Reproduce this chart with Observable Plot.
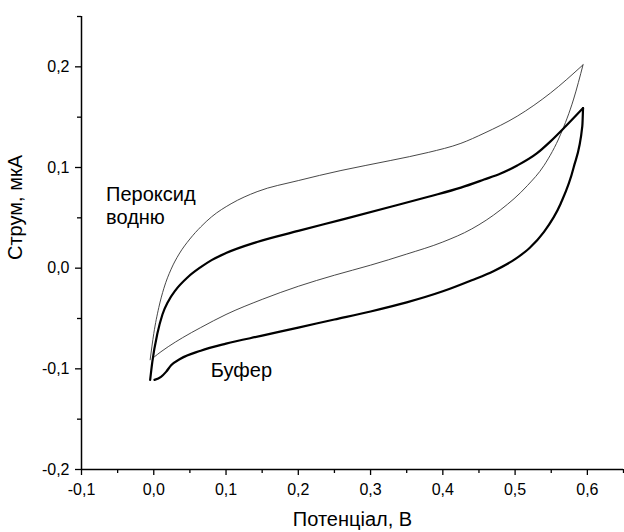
<!DOCTYPE html>
<html><head><meta charset="utf-8">
<script src="https://cdn.jsdelivr.net/npm/d3@7"></script>
<script src="https://cdn.jsdelivr.net/npm/@observablehq/plot@0.6"></script>
<style>body{margin:0;background:#fff} svg{display:block}</style>
</head><body><div id="chart"></div>
<script>
const xDomain = [-0.1, 0.65];
const yDomain = [-0.2, 0.25];
const xMajor = [-0.1, 0, 0.1, 0.2, 0.3, 0.4, 0.5, 0.6];
const xMinor = [-0.05, 0.05, 0.15, 0.25, 0.35, 0.45, 0.55, 0.65];
const yMajor = [-0.2, -0.1, 0, 0.1, 0.2];
const yMinor = [-0.15, -0.05, 0.05, 0.15, 0.25];

// Пероксид водню (thin), forward and reverse scan
const peroxideForward = [[-0.005,-0.091],[0.0,-0.065],[0.007,-0.039],[0.014,-0.020],[0.024,-0.001],[0.035,0.014],[0.05,0.029],[0.065,0.041],[0.08,0.051],[0.107,0.064],[0.143,0.076],[0.2,0.087],[0.259,0.097],[0.328,0.107],[0.38,0.115],[0.425,0.124],[0.457,0.134],[0.503,0.151],[0.549,0.174],[0.594,0.202]];
const peroxideReverse = [[0.594,0.202],[0.581,0.168],[0.563,0.133],[0.540,0.102],[0.517,0.082],[0.48,0.058],[0.44,0.039],[0.4,0.026],[0.35,0.014],[0.3,0.003],[0.25,-0.007],[0.2,-0.018],[0.15,-0.031],[0.1,-0.046],[0.065,-0.059],[0.04,-0.069],[0.02,-0.078],[0.01,-0.083],[0.001,-0.088]];
// Буфер (thick)
const bufferForward = [[-0.005,-0.111],[-0.002,-0.093],[0.005,-0.065],[0.012,-0.046],[0.02,-0.033],[0.03,-0.022],[0.047,-0.009],[0.065,0.001],[0.08,0.008],[0.1,0.015],[0.143,0.026],[0.2,0.037],[0.259,0.048],[0.328,0.061],[0.38,0.071],[0.425,0.080],[0.457,0.088],[0.48,0.094],[0.503,0.102],[0.53,0.114],[0.549,0.126],[0.57,0.141],[0.594,0.159]];
const bufferReverse = [[0.594,0.159],[0.593,0.141],[0.581,0.100],[0.563,0.064],[0.54,0.036],[0.52,0.020],[0.5,0.009],[0.47,-0.003],[0.44,-0.012],[0.4,-0.023],[0.35,-0.034],[0.3,-0.043],[0.25,-0.051],[0.2,-0.059],[0.15,-0.067],[0.1,-0.075],[0.065,-0.082],[0.037,-0.090],[0.024,-0.0965],[0.017,-0.103],[0.01,-0.108],[0.001,-0.111]];

const annotations = [
  {text: "Пероксид\nводню", x: -0.066, y: 0.0826},
  {text: "Буфер", x: 0.079, y: -0.0915}
];
const xLabel = "Потенціал, В";
const yLabel = "Струм, мкА";

const rows = (arr, series, branch) => arr.map(([x, y]) => ({x, y, series, branch: series + branch})).sort((a, b) => a.x - b.x);
const peroxide = [...rows(peroxideForward, "peroxide", "f"), ...rows(peroxideReverse, "peroxide", "r")];
const buffer = [...rows(bufferForward, "buffer", "f"), ...rows(bufferReverse, "buffer", "r")];

const fmt = d => d.toFixed(1).replace(".", ",");

const chart = Plot.plot({
  width: 624, height: 532,
  marginLeft: 81, marginRight: 1, marginTop: 16, marginBottom: 63,
  x: {domain: xDomain},
  y: {domain: yDomain},
  style: {fontFamily: "'Liberation Sans', Arial, sans-serif", color: "#000", background: "#fff"},
  marks: [
    Plot.line(peroxide, {x: "x", y: "y", z: "branch", stroke: "#333", strokeWidth: 0.9, curve: "monotone-x"}),
    Plot.line(buffer, {x: "x", y: "y", z: "branch", stroke: "#000", strokeWidth: 2.2, curve: "monotone-x"}),
    Plot.ruleX([xDomain[0]], {stroke: "#000", strokeWidth: 1.5}),
    Plot.ruleY([yDomain[0]], {stroke: "#000", strokeWidth: 1.5}),
    Plot.axisX(xMajor, {tickSize: 6, tickPadding: 8, tickFormat: fmt, fontSize: 16, label: null, strokeWidth: 1.3}),
    Plot.axisX(xMinor, {tickSize: 4, tickFormat: () => "", label: null, strokeWidth: 1.3}),
    Plot.axisY(yMajor, {tickSize: 6, tickPadding: 6, tickFormat: fmt, fontSize: 16, label: null, strokeWidth: 1.3}),
    Plot.axisY(yMinor, {tickSize: 4, tickFormat: () => "", label: null, strokeWidth: 1.3}),
    Plot.text(annotations, {x: "x", y: "y", text: "text", textAnchor: "start", lineAnchor: "top", fontSize: 20, lineHeight: 1.15, fill: "#000"}),
    Plot.text([xLabel], {frameAnchor: "bottom", dy: 42, lineAnchor: "top", fontSize: 20, fill: "#000"}),
    Plot.text([yLabel], {frameAnchor: "left", rotate: -90, dx: -66, dy: 17, fontSize: 20, fill: "#000"})
  ]
});
document.getElementById("chart").append(chart);
</script></body></html>
